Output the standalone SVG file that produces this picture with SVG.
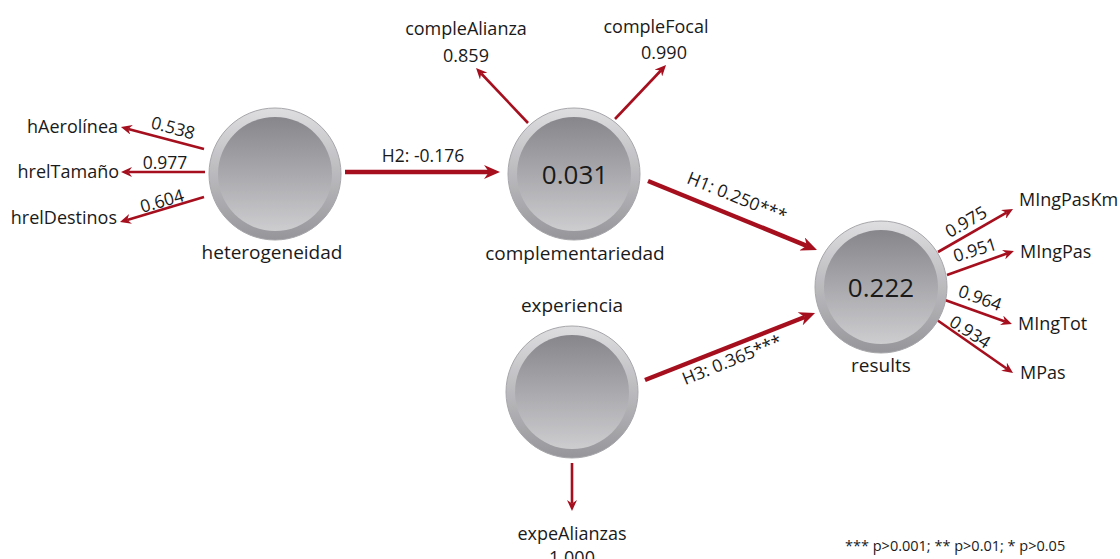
<svg xmlns="http://www.w3.org/2000/svg" width="1120" height="559" viewBox="0 0 1120 559">
<style>
text{font-family:"Open Sans","Liberation Sans",sans-serif;fill:#1a1a1a}
.node{font-size:19px}
.ind{font-size:18px}
.load{font-size:17.5px}
.big{font-size:26px}
.thick{stroke:#a50f1e;stroke-width:4.5;fill:none}
.thin{stroke:#a50f1e;stroke-width:2.6;fill:none}
.foot{font-size:14.5px}
</style>
<defs>
<linearGradient id="ring" x1="0" y1="0" x2="0" y2="1">
<stop offset="0" stop-color="#dedee1"/>
<stop offset="1" stop-color="#96969a"/>
</linearGradient>
<linearGradient id="disk" x1="0" y1="0" x2="0" y2="1">
<stop offset="0" stop-color="#86868b"/>
<stop offset="1" stop-color="#cdcdd0"/>
</linearGradient>
<marker id="ah" viewBox="0 0 16 14" refX="5" refY="7" markerWidth="16" markerHeight="14" markerUnits="userSpaceOnUse" orient="auto">
<path d="M0,0 L16,7 L0,14 L5,7 z" fill="#a50f1e"/>
</marker>
<marker id="as" viewBox="0 0 11 10" refX="3.5" refY="5" markerWidth="11" markerHeight="10" markerUnits="userSpaceOnUse" orient="auto">
<path d="M0,0 L11,5 L0,10 L3.5,5 z" fill="#a50f1e"/>
</marker>
<g id="ball">
<circle r="66" fill="url(#ring)" stroke="#a8a8ac" stroke-width="1"/>
<circle r="57" fill="url(#disk)"/>
</g>
</defs>

<g id="connectors">
<line class="thick" x1="345" y1="172" x2="489" y2="172" marker-end="url(#ah)"/>
<line class="thick" x1="648" y1="181" x2="806.8" y2="245.8" marker-end="url(#ah)"/>
<line class="thick" x1="645" y1="380" x2="804.8" y2="317" marker-end="url(#ah)"/>
<line class="thin" x1="204" y1="149" x2="128.2" y2="128.9" marker-end="url(#as)"/>
<line class="thin" x1="205" y1="172" x2="128.5" y2="172" marker-end="url(#as)"/>
<line class="thin" x1="204" y1="197" x2="127.2" y2="219.9" marker-end="url(#as)"/>
<line class="thin" x1="528" y1="123" x2="481.2" y2="73.5" marker-end="url(#as)"/>
<line class="thin" x1="615" y1="119" x2="660.9" y2="70.5" marker-end="url(#as)"/>
<line class="thin" x1="938" y1="252" x2="1006.5" y2="212.7" marker-end="url(#as)"/>
<line class="thin" x1="947" y1="275" x2="1006.9" y2="253.5" marker-end="url(#as)"/>
<line class="thin" x1="945" y1="300" x2="1004.9" y2="321.5" marker-end="url(#as)"/>
<line class="thin" x1="937" y1="320" x2="1006.9" y2="368.7" marker-end="url(#as)"/>
<line class="thin" x1="572" y1="463" x2="572" y2="503.5" marker-end="url(#as)"/>
<text class="load" x="423" y="162" text-anchor="middle">H2: -0.176</text>
<text class="load" x="737" y="203" text-anchor="middle" transform="rotate(22 737 197)">H1: 0.250***</text>
<text class="load" x="732" y="366" text-anchor="middle" transform="rotate(-22 732 360)">H3: 0.365***</text>
<text class="load" x="173" y="134" text-anchor="middle" transform="rotate(15 173 128)">0.538</text>
<text class="load" x="165" y="169" text-anchor="middle">0.977</text>
<text class="load" x="162" y="207" text-anchor="middle" transform="rotate(-16 162 201)">0.604</text>
<text class="load" x="966" y="228" text-anchor="middle" transform="rotate(-30 966 222)">0.975</text>
<text class="load" x="975" y="256" text-anchor="middle" transform="rotate(-17 975 250)">0.951</text>
<text class="load" x="980" y="304" text-anchor="middle" transform="rotate(20 980 298)">0.964</text>
<text class="load" x="970" y="338" text-anchor="middle" transform="rotate(33 970 332)">0.934</text>
</g>

<g id="heterogeneidad">
<use href="#ball" x="275" y="174"/>
<text class="node" x="272" y="259" text-anchor="middle">heterogeneidad</text>
</g>
<g id="complementariedad">
<use href="#ball" x="574" y="174"/>
<text class="big" x="575" y="184" text-anchor="middle">0.031</text>
<text class="node" x="575" y="260" text-anchor="middle">complementariedad</text>
</g>
<g id="results">
<use href="#ball" x="881" y="287"/>
<text class="big" x="881" y="297" text-anchor="middle">0.222</text>
<text class="node" x="881" y="372" text-anchor="middle">results</text>
</g>
<g id="experiencia">
<use href="#ball" x="572" y="392"/>
<text class="node" x="572" y="312" text-anchor="middle">experiencia</text>
</g>

<g id="hAerolinea"><text class="ind" x="118" y="133" text-anchor="end">hAerolínea</text></g>
<g id="hrelTamano"><text class="ind" x="119" y="178" text-anchor="end">hrelTamaño</text></g>
<g id="hrelDestinos"><text class="ind" x="117" y="224" text-anchor="end">hrelDestinos</text></g>
<g id="compleAlianza">
<text class="ind" x="466" y="35" text-anchor="middle">compleAlianza</text>
<text class="ind" x="466" y="62" text-anchor="middle">0.859</text>
</g>
<g id="compleFocal">
<text class="ind" x="656" y="33" text-anchor="middle">compleFocal</text>
<text class="ind" x="664" y="59" text-anchor="middle">0.990</text>
</g>
<g id="MIngPasKm"><text class="ind" x="1019" y="206">MIngPasKm</text></g>
<g id="MIngPas"><text class="ind" x="1020" y="258">MIngPas</text></g>
<g id="MIngTot"><text class="ind" x="1018" y="330">MIngTot</text></g>
<g id="MPas"><text class="ind" x="1020" y="379">MPas</text></g>
<g id="expeAlianzas">
<text class="ind" x="572" y="540" text-anchor="middle">expeAlianzas</text>
<text class="ind" x="572" y="564" text-anchor="middle">1.000</text>
</g>
<text class="foot" x="845" y="551">*** p&gt;0.001; ** p&gt;0.01; * p&gt;0.05</text>
</svg>
